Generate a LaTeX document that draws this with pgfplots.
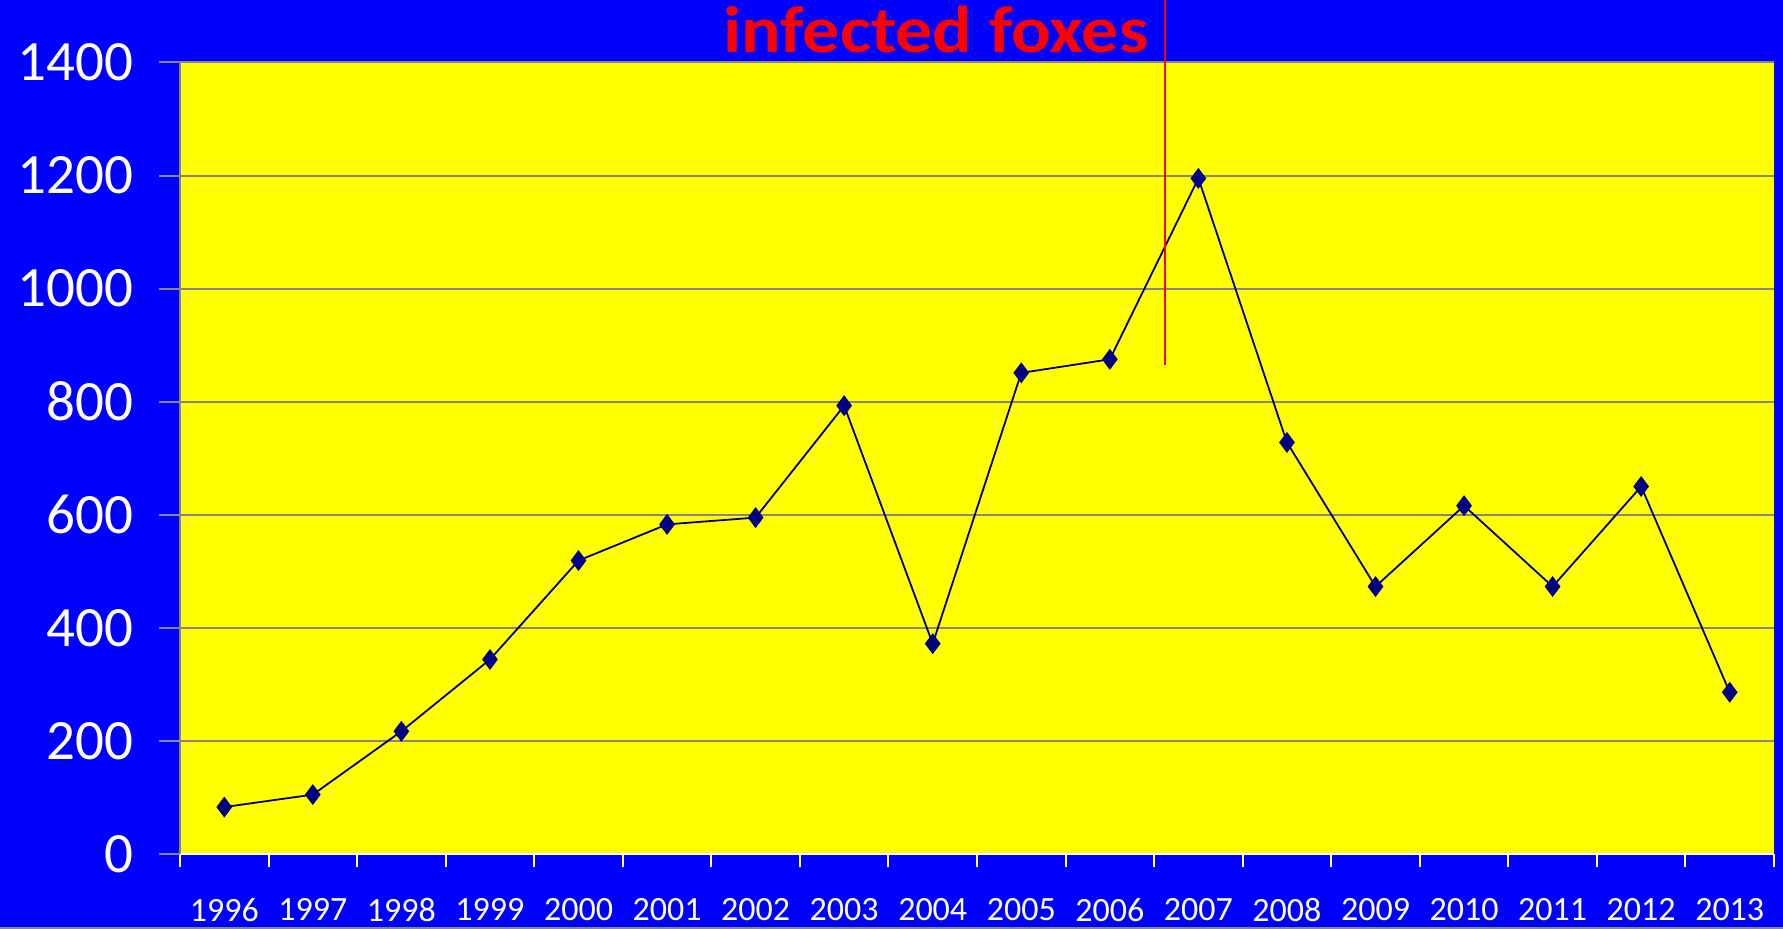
\documentclass[border=0pt]{standalone}
\usepackage{fontspec}
\setmainfont{Carlito}
\usepackage{pgfplots}
\pgfplotsset{compat=1.18}
\definecolor{bg}{HTML}{0000FF}
\definecolor{plotbg}{HTML}{FFFF00}
\definecolor{gridc}{HTML}{868686}
\definecolor{navyc}{HTML}{000080}
\definecolor{redc}{HTML}{FF0000}
\begin{document}
\begin{tikzpicture}
\useasboundingbox (0pt,0pt) rectangle (891.5pt,464.5pt);
\fill[bg] (0pt,0pt) rectangle (891.5pt,464.5pt);
\begin{axis}[
  at={(90pt,37.5pt)}, anchor=south west,
  scale only axis, width=797pt, height=395.75pt,
  xmin=-0.5, xmax=17.5, ymin=0, ymax=1400,
  clip=false,
  axis background/.style={fill=plotbg},
  axis x line*=bottom, axis y line*=left,
  x axis line style={white, line width=1pt},
  y axis line style={gridc, line width=1pt},
  xtick={0,...,17},
  xticklabels={1996,1997,1998,1999,2000,2001,2002,2003,2004,2005,2006,2007,2008,2009,2010,2011,2012,2013},
  minor xtick={-0.5,0.5,...,17.5},
  major x tick style={draw=none},
  minor x tick style={white, line width=1pt},
  minor tick length=6.5pt,
  ytick={0,200,...,1400},
  y tick style={gridc, line width=1pt},
  major tick length=10.5pt,
  tick align=outside,
  ymajorgrids, major grid style={gridc, line width=1pt},
  /pgf/number format/1000 sep={},
  /pgf/number format/assume math mode=true,
  yticklabel style={white, font=\fontsize{28.5}{28.5}\selectfont, anchor=east, xshift=-9.5pt},
  xticklabel style={white, font=\fontsize{17}{17}\selectfont, anchor=north, yshift=-8pt},
]
\addplot[navyc, line width=0.9pt, mark=diamond*, mark size=4.5pt, mark options={fill=navyc, draw=navyc}]
coordinates {
(0,83) (1,105) (2,217) (3,344) (4,519) (5,583) (6,595) (7,793) (8,372)
(9,851) (10,875) (11,1195) (12,728) (13,473) (14,616) (15,473) (16,650) (17,286)
};
\addplot[redc, line width=0.9pt] coordinates {(10.62,865) (10.62,1511)};
\end{axis}
\node[redc, font=\bfseries\fontsize{33}{33}\selectfont, anchor=base, xscale=1.12, inner sep=0pt] at (468pt,438pt) {infected foxes};
\draw[gridc, line width=1pt] (0pt,0.5pt) -- (891.5pt,0.5pt);
\end{tikzpicture}
\end{document}
